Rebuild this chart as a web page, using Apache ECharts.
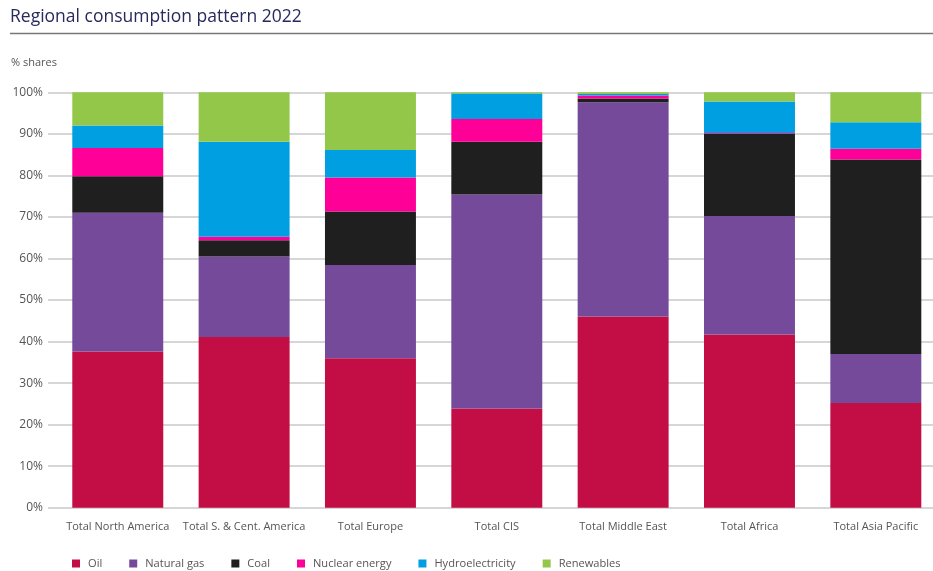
<!DOCTYPE html>
<html>
<head>
<meta charset="utf-8">
<script src="https://cdn.jsdelivr.net/npm/echarts@6/dist/echarts.min.js"></script>
<style>html,body{margin:0;padding:0;background:#fff;overflow:hidden}#c{width:939px;height:571px}</style>
</head>
<body>
<div id="c"></div>
<script>
const categories = ['Total North America','Total S. & Cent. America','Total Europe','Total CIS','Total Middle East','Total Africa','Total Asia Pacific'];
const oil         = [37.6, 41.1, 36.0, 23.9, 46.0, 41.7, 25.2];
const naturalGas  = [33.4, 19.4, 22.4, 51.5, 51.6, 28.5, 11.8];
const coal        = [ 8.8,  3.9, 12.9, 12.7,  0.9, 19.8, 46.8];
const nuclear     = [ 6.8,  0.8,  8.2,  5.5,  0.7,  0.2,  2.6];
const hydro       = [ 5.4, 22.9,  6.6,  6.1,  0.4,  7.6,  6.4];
const renewables  = [ 8.0, 11.9, 13.9,  0.3,  0.4,  2.2,  7.2];
const yTicks = [0,10,20,30,40,50,60,70,80,90,100];

const seriesDefs = [
  ['Oil', oil, '#c20e44'],
  ['Natural gas', naturalGas, '#754a9b'],
  ['Coal', coal, '#1f1f1f'],
  ['Nuclear energy', nuclear, '#fe0098'],
  ['Hydroelectricity', hydro, '#009fe2'],
  ['Renewables', renewables, '#93c74a']
];

const chart = echarts.init(document.getElementById('c'), null, {renderer:'canvas'});
const font = '"Open Sans", "Noto Sans", sans-serif';
chart.setOption({
  animation: false,
  textStyle: {fontFamily: font},
  title: [
    {text: 'Regional consumption pattern 2022', left: 10, top: 8, padding: 0,
     textStyle: {fontFamily: font, fontSize: 17.5, fontWeight: 'normal', color: '#262a5c'}},
    {text: '% shares', left: 11, top: 57, padding: 0,
     textStyle: {fontFamily: font, fontSize: 11, fontWeight: 'normal', color: '#555'}}
  ],
  graphic: [{type:'line', shape:{x1:10, y1:33.5, x2:939, y2:33.5}, style:{stroke:'#777', lineWidth:1.5}}],
  legend: {
    left: 72, top: 558, padding: 0, itemWidth: 8, itemHeight: 8, itemGap: 27, icon: 'rect',
    textStyle: {fontFamily: font, fontSize: 11.1, color: '#555', padding: [0,0,0,3]},
    data: seriesDefs.map(s => s[0])
  },
  grid: [
    {left: 48, right: 0, top: 92.3, height: 415.4},
    {left: 54.6, right: 0, top: 92.3, height: 415.4}
  ],
  xAxis: [
    {type: 'category', gridIndex: 0, data: categories, show: false},
    {type: 'category', gridIndex: 1, data: categories,
     axisLine: {show: false}, axisTick: {show: false},
     axisLabel: {interval: 0, margin: 14, fontFamily: font, fontSize: 11, color: '#555'}}
  ],
  yAxis: [
    {type: 'value', gridIndex: 0, min: 0, max: 100, interval: 10,
     axisLine: {show: false}, axisTick: {show: false},
     axisLabel: {formatter: v => yTicks.includes(v) ? v + '%' : '', margin: 5, fontFamily: font, fontSize: 12, color: '#555'},
     splitLine: {lineStyle: {color: '#c9c9c9', width: 1.5}}},
    {type: 'value', gridIndex: 1, min: 0, max: 100, interval: 10, show: false,
     splitLine: {show: false}}
  ],
  series: seriesDefs.map(s => ({
    name: s[0], type: 'bar', stack: 'total', xAxisIndex: 1, yAxisIndex: 1,
    data: s[1], barCategoryGap: '28%',
    itemStyle: {color: s[2]}
  }))
});
</script>
</body>
</html>
